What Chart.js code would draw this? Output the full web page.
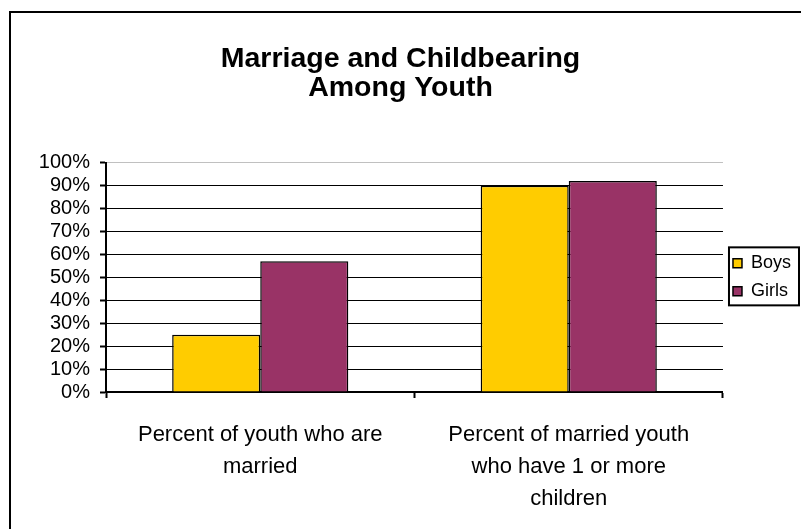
<!DOCTYPE html>
<html>
<head>
<meta charset="utf-8">
<script src="https://cdn.jsdelivr.net/npm/chart.js@4"></script>
<style>
    html, body { margin: 0; padding: 0; background: #fff; overflow: hidden; }
    #wrap { position: relative; width: 801px; height: 529px; }
    #frame {
        position: absolute; left: 9px; top: 11px;
        width: 900px; height: 700px;
        border: 2px solid #000;
        pointer-events: none;
    }
</style>
</head>
<body>
<div id="wrap">
    <canvas id="chart" width="801" height="529"></canvas>
    <div id="frame"></div>
</div>
<script>
// Marriage and childbearing among youth

const titleLines = ['Marriage and Childbearing', 'Among Youth'];
const categories = [
    ['Percent of youth who are', 'married'],
    ['Percent of married youth', 'who have 1 or more', 'children'],
];
const boys = [25, 90];
const girls = [57, 92];
const yTicks = [0, 10, 20, 30, 40, 50, 60, 70, 80, 90, 100];

const FONT = "'Liberation Sans', Arial, sans-serif";
const FRAME_GRAY = '#c0c0c0';

// Excel draws a box round the legend, Chart.js does not
const legendFrame = {
    id: 'legendFrame',
    afterDraw(chart) {
        const legend = chart.legend;
        if (!legend || !legend.legendHitBoxes.length) return;
        const hb = legend.legendHitBoxes;
        const first = hb[0];
        const last = hb[hb.length - 1];
        const ctx = chart.ctx;
        const left = first.left - 4;
        const top = first.top - 7;
        ctx.save();
        ctx.strokeStyle = '#000';
        ctx.lineWidth = 2;
        ctx.strokeRect(left, top, legend.right - 2 - left, last.top + last.height + 5 - top);
        ctx.restore();
    },
};

new Chart(document.getElementById('chart'), {
    type: 'bar',
    data: {
        labels: categories,
        datasets: [{
            label: 'Boys',
            data: boys,
            backgroundColor: '#ffcc00',
            borderColor: '#000',
            borderWidth: 1.5,
            categoryPercentage: 0.571,
            barPercentage: 1,
        }, {
            label: 'Girls',
            data: girls,
            backgroundColor: '#993366',
            borderColor: '#000',
            borderWidth: 1.5,
            categoryPercentage: 0.571,
            barPercentage: 1,
        }],
    },
    options: {
        responsive: false,
        animation: false,
        devicePixelRatio: 1,
        layout: { padding: 0 },
        plugins: {
            title: {
                display: true,
                text: titleLines,
                color: '#000',
                font: { family: FONT, size: 28.5, weight: 'bold', lineHeight: 1.03 },
                padding: { top: 44, bottom: 60 },
            },
            legend: {
                position: 'right',
                fullSize: false,
                labels: {
                    color: '#000',
                    font: { family: FONT, size: 18 },
                    boxWidth: 9,
                    boxHeight: 9,
                    padding: 10,
                },
            },
            tooltip: { enabled: false },
        },
        scales: {
            x: {
                afterFit: (axis) => { axis.height = 137; },
                grid: {
                    offset: true,
                    color: (c) => c.index === categories.length ? FRAME_GRAY : 'rgba(0,0,0,0)',
                    tickColor: '#000',
                    tickLength: 6,
                    tickWidth: 2,
                },
                border: { display: true, color: '#000', width: 2 },
                ticks: {
                    color: '#000',
                    font: { family: FONT, size: 22, lineHeight: 1.45 },
                    padding: 21,
                    maxRotation: 0,
                    autoSkip: false,
                },
            },
            y: {
                min: 0,
                max: 100,
                afterFit: (axis) => { axis.width = 106; },
                afterBuildTicks: (axis) => { axis.ticks = yTicks.map(v => ({ value: v })); },
                grid: {
                    color: (c) => c.tick && c.tick.value === 100 ? FRAME_GRAY : '#000',
                    tickColor: '#000',
                    tickLength: 6,
                    tickWidth: 2,
                    lineWidth: 1,
                },
                border: { display: true, color: '#000', width: 2 },
                ticks: {
                    color: '#000',
                    font: { family: FONT, size: 20 },
                    padding: 10,
                    autoSkip: false,
                    callback: (v) => v + '%',
                },
            },
        },
    },
    plugins: [legendFrame],
});
</script>
</body>
</html>
